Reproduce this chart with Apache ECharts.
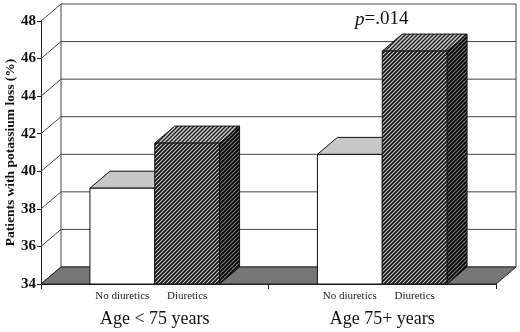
<!DOCTYPE html>
<html>
<head>
<meta charset="utf-8">
<script src="https://cdn.jsdelivr.net/npm/echarts@6/dist/echarts.min.js"></script>
<style>
  html, body { margin: 0; padding: 0; background: #fff; }
  #chart { width: 520px; height: 332px; }
</style>
</head>
<body>
<div id="chart"></div>
<script>
  // data
  var groups = ['Age < 75 years', 'Age 75+ years'];
  var seriesNames = ['No diuretics', 'Diuretics'];
  var noDiuretics = [39.1, 40.9];
  var diuretics = [41.5, 46.4];
  var yTicks = [34, 36, 38, 40, 42, 44, 46, 48];
  var pLabel = '.014';

  var DX = 20, DY = -17;      // depth offset of the 3d box
  var BAR_RATIO = 0.285;      // bar width / category width
  var serif = '"Liberation Serif", "DejaVu Serif", serif';

  function hatch(bg, fg, lw) {
    var c = document.createElement('canvas');
    c.width = c.height = 4;
    var g = c.getContext('2d');
    g.fillStyle = bg;
    g.fillRect(0, 0, 4, 4);
    g.strokeStyle = fg;
    g.lineWidth = lw;
    g.beginPath();
    g.moveTo(0, 4); g.lineTo(4, 0);
    g.moveTo(-1, 1); g.lineTo(1, -1);
    g.moveTo(3, 5); g.lineTo(5, 3);
    g.stroke();
    return { image: c, repeat: 'repeat' };
  }

  var darkFaces = {
    front: hatch('#c8c8c8', '#111', 1.7),
    top: hatch('#d0d0d0', '#222', 1.5),
    side: hatch('#808080', '#000', 1.8)
  };
  var lightFaces = { front: '#ffffff', top: '#c8c8c8', side: '#9a9a9a' };

  function barRender(slot, faces, name) {
    return function (params, api) {
      var cat = api.value(0);
      var base = api.coord([cat, yTicks[0]]);
      var top = api.coord([cat, api.value(1)]);
      var bw = api.size([1, 0])[0] * BAR_RATIO;
      var x0 = base[0] - bw + slot * bw;
      var x1 = x0 + bw;
      var st = { stroke: '#111', lineWidth: 1 };
      return {
        type: 'group',
        children: [
          { type: 'polygon', shape: { points: [[x1, top[1]], [x1 + DX, top[1] + DY], [x1 + DX, base[1] + DY], [x1, base[1]]] },
            style: Object.assign({ fill: faces.side }, st) },
          { type: 'polygon', shape: { points: [[x0, top[1]], [x0 + DX, top[1] + DY], [x1 + DX, top[1] + DY], [x1, top[1]]] },
            style: Object.assign({ fill: faces.top }, st) },
          { type: 'rect', shape: { x: x0, y: top[1], width: bw, height: base[1] - top[1] },
            style: Object.assign({ fill: faces.front }, st) },
          { type: 'text', x: (x0 + x1) / 2, y: base[1] + 12,
            style: { text: name, fill: '#222', font: '11px ' + serif, align: 'center', verticalAlign: 'middle' } }
        ]
      };
    };
  }

  var chart = echarts.init(document.getElementById('chart'));
  chart.setOption({
    animation: false,
    grid: { left: 41, right: 24, top: 21, bottom: 48, outerBoundsMode: 'none', containLabel: false },
    xAxis: {
      type: 'category',
      data: groups,
      axisLine: { lineStyle: { color: '#222' } },
      axisTick: { show: true, length: 5, lineStyle: { color: '#222' } },
      axisLabel: { margin: 26, color: '#111', fontSize: 18, fontFamily: serif }
    },
    yAxis: {
      type: 'value',
      min: 34,
      max: 48,
      interval: 2,
      name: 'Patients with potassium loss (%)',
      nameLocation: 'middle',
      nameGap: 23,
      nameMoveOverlap: false,
      nameTextStyle: { color: '#111', fontSize: 13.5, fontWeight: 'bold', fontFamily: serif },
      axisLine: { show: true, lineStyle: { color: '#222' } },
      axisTick: { show: true, length: 4, lineStyle: { color: '#222' } },
      axisLabel: { margin: 5, color: '#111', fontSize: 15, fontWeight: 'bold', fontFamily: serif },
      splitLine: { show: false }
    },
    graphic: [{
      type: 'text',
      left: 355,
      top: 10,
      style: {
        text: '{it|p}=' + pLabel,
        font: '19px ' + serif,
        fill: '#111',
        rich: { it: { fontStyle: 'italic', fontSize: 19, fontFamily: serif } }
      }
    }],
    series: [
      {
        name: 'walls',
        type: 'custom',
        silent: true,
        data: yTicks.map(function (v) { return [0, v]; }),
        renderItem: function (params, api) {
          var cs = params.coordSys;
          var y = api.coord([0, api.value(1)])[1];
          return {
            type: 'polyline',
            shape: { points: [[cs.x, y], [cs.x + DX, y + DY], [cs.x + cs.width + DX, y + DY]] },
            style: { stroke: '#444', lineWidth: 1, fill: null }
          };
        }
      },
      {
        name: 'floor',
        type: 'custom',
        silent: true,
        data: [[0, yTicks[0]]],
        renderItem: function (params, api) {
          var cs = params.coordSys;
          var yb = api.coord([0, api.value(1)])[1];
          var yt = api.coord([0, yTicks[yTicks.length - 1]])[1];
          var xl = cs.x, xr = cs.x + cs.width;
          return {
            type: 'group',
            children: [
              { type: 'line', shape: { x1: xl + DX, y1: yt + DY, x2: xl + DX, y2: yb + DY }, style: { stroke: '#444', lineWidth: 1 } },
              { type: 'line', shape: { x1: xr + DX, y1: yt + DY, x2: xr + DX, y2: yb + DY }, style: { stroke: '#444', lineWidth: 1 } },
              { type: 'polygon', shape: { points: [[xl, yb], [xl + DX, yb + DY], [xr + DX, yb + DY], [xr, yb]] },
                style: { fill: '#767676', stroke: '#222', lineWidth: 1 } }
            ]
          };
        }
      },
      {
        name: seriesNames[0],
        type: 'custom',
        data: noDiuretics.map(function (v, i) { return [i, v]; }),
        renderItem: barRender(0, lightFaces, seriesNames[0])
      },
      {
        name: seriesNames[1],
        type: 'custom',
        data: diuretics.map(function (v, i) { return [i, v]; }),
        renderItem: barRender(1, darkFaces, seriesNames[1])
      }
    ]
  });
</script>
</body>
</html>
